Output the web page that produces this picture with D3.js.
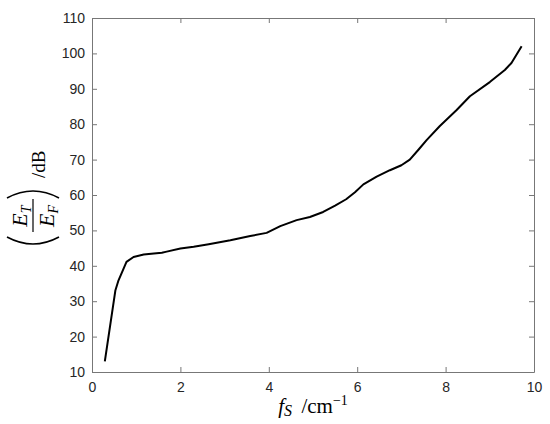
<!DOCTYPE html>
<html><head><meta charset="utf-8">
<script src="https://cdn.jsdelivr.net/npm/d3@7"></script>
<style>body{margin:0;background:#fff}svg{display:block}</style>
</head><body>
<svg id="c" width="550" height="424"></svg>
<script>
const fS = [0.29, 0.53, 0.60, 0.70, 0.78, 0.94, 1.17, 1.40, 1.58, 1.69, 2.0, 2.3, 2.64, 3.13, 3.58, 3.95, 4.26, 4.63, 4.93, 5.23, 5.5, 5.75, 5.95, 6.14, 6.44, 6.74, 7.0, 7.19, 7.4, 7.57, 7.87, 8.25, 8.55, 9.0, 9.34, 9.49, 9.72];
const ratio = [13.0, 33.1, 35.9, 38.8, 41.1, 42.5, 43.2, 43.5, 43.7, 44.0, 44.9, 45.4, 46.1, 47.2, 48.4, 49.3, 51.2, 52.9, 53.8, 55.2, 57.0, 58.8, 60.8, 63.0, 65.2, 67.0, 68.4, 70.0, 73.0, 75.5, 79.5, 84.0, 87.9, 91.9, 95.3, 97.3, 102.0];
const xTicks = [0, 2, 4, 6, 8, 10];
const yTicks = [10, 20, 30, 40, 50, 60, 70, 80, 90, 100, 110];

const svg = d3.select('#c');
const L = 92, R = 534, T = 18, B = 372;
const x = d3.scaleLinear().domain([0, 10]).range([L, R]);
const y = d3.scaleLinear().domain([10, 110]).range([B, T]);
const axCol = '#777', txtCol = '#262626';

function style(g){
  g.selectAll('path,line').attr('stroke', axCol).attr('stroke-width', 1);
  g.selectAll('text').attr('fill', txtCol).attr('font-family', 'Liberation Sans, Arial, sans-serif').attr('font-size', 14);
}
svg.append('g').attr('transform', `translate(0,${B})`)
  .call(d3.axisBottom(x).tickValues(xTicks).tickSizeInner(-5).tickSizeOuter(0).tickPadding(10)).call(style);
svg.append('g').attr('transform', `translate(0,${T})`)
  .call(d3.axisTop(x).tickValues(xTicks).tickSizeInner(-5).tickSizeOuter(0).tickFormat('')).call(style);
svg.append('g').attr('transform', `translate(${L},0)`)
  .call(d3.axisLeft(y).tickValues(yTicks).tickSizeInner(-5).tickSizeOuter(0).tickPadding(7)).call(style);
svg.append('g').attr('transform', `translate(${R},0)`)
  .call(d3.axisRight(y).tickValues(yTicks).tickSizeInner(-5).tickSizeOuter(0).tickFormat('')).call(style);

const data = fS.map((d, i) => [d, ratio[i]]);
svg.append('path').datum(data)
  .attr('fill', 'none').attr('stroke', '#000').attr('stroke-width', 2).attr('stroke-linejoin', 'round')
  .attr('d', d3.line().x(d => x(d[0])).y(d => y(d[1])));

// x label
const serif = 'Liberation Serif, Times New Roman, serif';
const xl = svg.append('text').attr('x', (L + R) / 2).attr('y', 413).attr('text-anchor', 'middle')
  .attr('font-family', serif).attr('font-size', 21).attr('fill', '#000');
xl.append('tspan').attr('font-style', 'italic').text('f');
xl.append('tspan').attr('font-style', 'italic').attr('font-size', 16).attr('dy', 3).text('S');
xl.append('tspan').attr('dy', -3).text('\u00a0\u2009/cm');
xl.append('tspan').attr('font-size', 14).attr('dy', -8).text('\u22121');

// y label
const yl = svg.append('g').attr('transform', `translate(33,${(T + B) / 2}) rotate(-90)`);
yl.append('path').attr('d', 'M -42,-26 Q -56,0 -42,26').attr('fill', 'none').attr('stroke', '#000').attr('stroke-width', 1.6);
yl.append('path').attr('d', 'M -3,-26 Q 11,0 -3,26').attr('fill', 'none').attr('stroke', '#000').attr('stroke-width', 1.6);
yl.append('line').attr('x1', -37).attr('x2', -4).attr('y1', 0).attr('y2', 0).attr('stroke', '#000').attr('stroke-width', 1.2);
const num = yl.append('text').attr('x', -21).attr('y', -6).attr('text-anchor', 'middle')
  .attr('font-family', serif).attr('font-size', 22).attr('font-style', 'italic');
num.append('tspan').text('E');
num.append('tspan').attr('font-size', 14).attr('dy', 4).text('T');
const den = yl.append('text').attr('x', -21).attr('y', 21).attr('text-anchor', 'middle')
  .attr('font-family', serif).attr('font-size', 22).attr('font-style', 'italic');
den.append('tspan').text('E');
den.append('tspan').attr('font-size', 14).attr('dy', 4).text('F');
yl.append('text').attr('x', 17).attr('y', 12).attr('font-family', serif).attr('font-size', 19).text('/dB');
</script>
</body></html>
